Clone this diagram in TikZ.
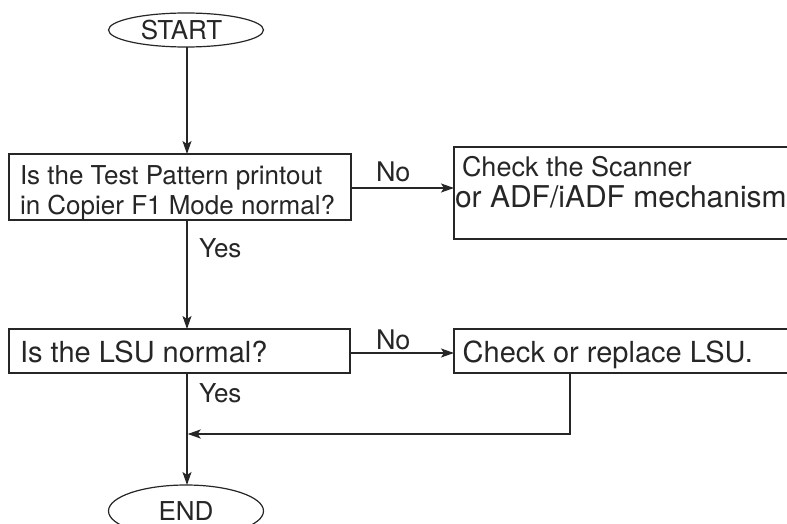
\documentclass[tikz,border=0pt]{standalone}
\usepackage{fontspec}
\setmainfont{TeX Gyre Heros}
\usetikzlibrary{arrows.meta,shapes.geometric}
\definecolor{ink}{HTML}{262626}
\newcommand\myfs[1]{\fontsize{#1}{30}\selectfont}
\newcommand\myfsb[2]{\fontsize{#1}{#2}\selectfont}
\newcommand\lb[2]{\makebox[#1][l]{#2}}
\begin{document}
\begin{tikzpicture}[x=1pt,y=-1pt,
  line/.style={draw=ink, line width=1.3pt},
  arr/.style={line, -{Stealth[length=13pt,width=9pt,inset=3pt]}},
  box/.style={draw=ink, line width=1.3pt, rectangle, outer sep=0pt, inner ysep=0pt, align=left, text=ink},
  term/.style={draw=ink, line width=1.2pt, ellipse, inner sep=0pt, outer sep=0pt, text=ink, font=\myfs{26}},
  lbl/.style={text=ink, inner sep=0pt, outer sep=0pt, anchor=base west},
]
\useasboundingbox (0,0) rectangle (787,524);
\clip (0,0) rectangle (787,524);
\fill[white] (0,0) rectangle (787,524);

\coordinate (mx) at (187,0);
\coordinate (ret) at (570,434);

\node[term, minimum width=155pt, minimum height=34pt] (start) at (186,30) {\hspace*{-9pt}START};

\node[box, inner xsep=11pt, font=\myfs{26}] (b1) at (180,187)
  {\rule{0pt}{30pt}\lb{320pt}{Is the Test Pattern printout}\\\lb{320pt}{in Copier F1 Mode normal?}\rule[-6pt]{0pt}{6pt}};

\node[box, inner xsep=1pt, minimum height=92pt, font={\myfsb{27}{31}}] (b2) at (652,193)
  {\rule{0pt}{22pt}\lb{394pt}{\hspace*{7pt}Check the Scanner}\\\lb{394pt}{\myfsb{30}{31}or ADF/iADF mechanism}\rule[-25pt]{0pt}{25pt}};

\node[box, inner xsep=11pt, minimum height=44pt, font=\myfs{29}] (b3) at (179.5,351)
  {\rule{0pt}{28pt}\lb{319pt}{Is the LSU normal?}\rule[-6pt]{0pt}{6pt}};

\node[box, inner xsep=8.7pt, minimum height=44pt, font=\myfs{29}] (b4) at (652,351)
  {\rule{0pt}{30pt}\lb{378.6pt}{Check or replace LSU.}\rule[-6pt]{0pt}{6pt}};

\node[term, minimum width=155pt, minimum height=52pt] (end) at (186,511) {END};

\node[lbl, font=\myfs{27}] (no1) at (376,182) {No};
\node[lbl, font=\myfs{26}] (yes1) at (199,257) {Yes};
\node[lbl, font=\myfs{27}] (no2) at (376,349) {No};
\node[lbl, font=\myfs{26}] (yes2) at (199,402) {Yes};

\draw[arr] (start.south -| mx) -- (b1.north -| mx);
\draw[arr] ([yshift=-1pt]b1.east) -- ([yshift=-1pt]b1.east -| b2.west);
\draw[arr] (b1.south -| mx) -- (b3.north -| mx);
\draw[arr] ([yshift=-2pt]b3.east) -- ([yshift=-2pt]b3.east -| b4.west);
\draw[arr] (b3.south -| mx) -- (end.north -| mx);
\draw[arr, shorten >=0.7pt] (b4.south -| ret) -- (ret) -- (ret -| mx);
\end{tikzpicture}
\end{document}
